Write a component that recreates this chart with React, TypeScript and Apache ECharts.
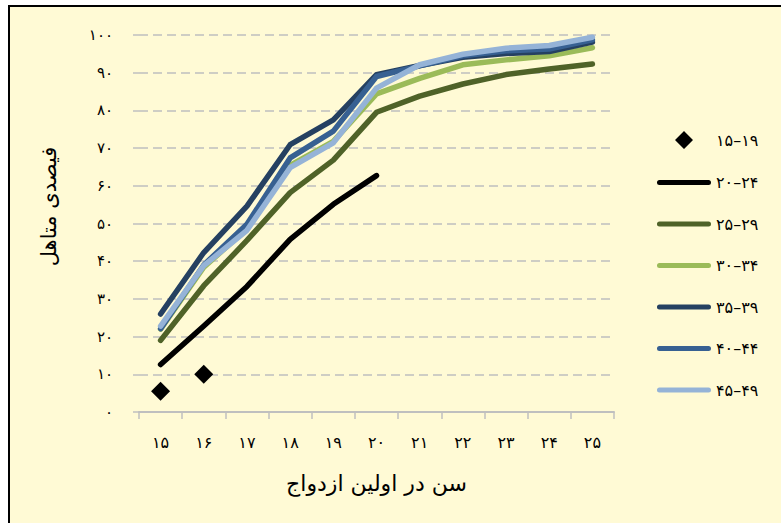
import React, { useEffect, useRef } from "react";
import * as echarts from "echarts";

const ages = ["۱۵", "۱۶", "۱۷", "۱۸", "۱۹", "۲۰", "۲۱", "۲۲", "۲۳", "۲۴", "۲۵"];
const seriesNames = ["۱۵–۱۹", "۲۰–۲۴", "۲۵–۲۹", "۳۰–۳۴", "۳۵–۳۹", "۴۰–۴۴", "۴۵–۴۹"];
const g15_19 = [5.5, 10];
const g20_24 = [12.6, 22.8, 33.3, 45.8, 55.1, 62.7];
const g25_29 = [19.0, 33.5, 45.5, 58.2, 66.8, 79.5, 83.8, 87.0, 89.5, 91.0, 92.3];
const g30_34 = [22.0, 38.4, 48.6, 65.4, 71.8, 84.4, 88.5, 92.1, 93.4, 94.5, 96.6];
const g35_39 = [26.0, 42.3, 54.6, 70.9, 77.5, 89.5, 91.9, 94.1, 95.1, 95.6, 98.1];
const g40_44 = [22.1, 39.0, 49.8, 67.4, 74.5, 89.0, 91.8, 94.5, 95.8, 96.3, 98.7];
const g45_49 = [22.8, 38.8, 48.2, 64.8, 71.4, 85.9, 92.1, 94.9, 96.5, 97.2, 99.4];
const lineSeries = [g20_24, g25_29, g30_34, g35_39, g40_44, g45_49];
const lineColors = ["#000000", "#4F6228", "#9BBB59", "#254061", "#376092", "#95B3D7"];
const yTitle = "فیصدی متاهل";
const xTitle = "سن در اولین ازدواج";

const toFa = (v: number | string) =>
  String(v).replace(/[0-9]/g, (d) => "۰۱۲۳۴۵۶۷۸۹"[Number(d)]);

const FONT = "DejaVu Sans";
const LINE_ICON = "path://M2.5,0 L51.5,0 A2.5,2.5 0 0 1 51.5,5 L2.5,5 A2.5,2.5 0 0 1 2.5,0 Z";
const DIAMOND_ICON =
  "path://M0,9 L0.01,9 L0,9.01 Z M27,0 L36,9 L27,18 L18,9 Z M54,9 L53.99,9 L54,9.01 Z";

export default function App() {
  const ref = useRef<HTMLDivElement>(null);
  useEffect(() => {
    if (!ref.current) return;
    const chart = echarts.init(ref.current, undefined, { renderer: "svg" });
    const series: any[] = [
      {
        name: seriesNames[0],
        type: "scatter",
        data: g15_19,
        symbol: "diamond",
        symbolSize: 19,
        itemStyle: { color: "#000000", opacity: 1 },
        z: 3,
      },
      ...lineSeries.map((d, i) => ({
        name: seriesNames[i + 1],
        type: "line",
        data: d,
        symbol: "none",
        smooth: false,
        lineStyle: { color: lineColors[i], width: 5.5, cap: "round", join: "round" },
        itemStyle: { color: lineColors[i] },
        z: 3 + i,
      })),
    ];
    chart.setOption({
      animation: false,
      textStyle: { fontFamily: FONT },
      grid: { left: 139, right: 167, top: 35, bottom: 111, containLabel: false },
      legend: {
        orient: "vertical",
        left: 652,
        top: 126,
        itemWidth: 54,
        itemHeight: 18,
        itemGap: 25.5,
        symbolKeepAspect: true,
        textStyle: { fontFamily: FONT, fontSize: 16, color: "#000" },
        data: seriesNames.map((n, i) =>
          i === 0
            ? { name: n, icon: DIAMOND_ICON, itemStyle: { color: "#000", opacity: 1 } }
            : { name: n, icon: LINE_ICON }
        ),
      },
      xAxis: {
        type: "category",
        data: ages,
        boundaryGap: true,
        axisLine: { show: true, lineStyle: { color: "#BFBFBF", width: 2 } },
        axisTick: { show: true, length: 7, lineStyle: { color: "#BFBFBF", width: 1.5 } },
        axisLabel: { color: "#000", fontSize: 16, fontFamily: FONT, margin: 22 },
        name: xTitle,
        nameLocation: "middle",
        nameGap: 60,
        nameTextStyle: { color: "#000", fontSize: 22, fontFamily: FONT },
      },
      yAxis: {
        type: "value",
        min: 0,
        max: 100,
        interval: 10,
        axisLine: { show: false },
        axisTick: { show: true, length: 6, lineStyle: { color: "#BFBFBF", width: 1.5 } },
        axisLabel: {
          color: "#000",
          fontSize: 15,
          fontFamily: FONT,
          margin: 26,
          formatter: (v: number) => toFa(v),
        },
        splitLine: {
          show: true,
          lineStyle: { color: "#BFBFBF", width: 1.5, type: [9, 5] },
        },
        name: yTitle,
        nameLocation: "middle",
        nameGap: 80,
        nameRotate: 90,
        nameTextStyle: { color: "#000", fontSize: 21, fontFamily: FONT, padding: [0, 0, 0, 34] },
      },
      series,
    });
    return () => chart.dispose();
  }, []);

  return (
    <div
      style={{
        position: "fixed",
        left: 0,
        top: 0,
        width: 781,
        height: 523,
        overflow: "hidden",
        background: "#ffffff",
      }}
    >
      <div
        style={{
          position: "absolute",
          left: 8,
          top: 5,
          width: 900,
          height: 700,
          background: "#FFFAD5",
          border: "2px solid #000",
          boxSizing: "border-box",
        }}
      />
      <div ref={ref} style={{ position: "absolute", left: 0, top: 0, width: 781, height: 523 }} />
    </div>
  );
}
